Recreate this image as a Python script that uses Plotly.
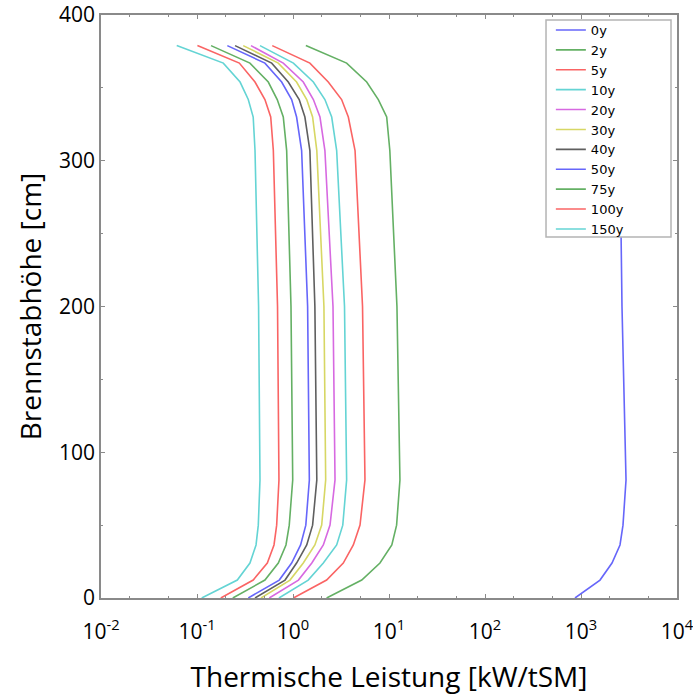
import plotly.graph_objects as go

# Brennstabhöhe [cm] (Stützstellen der Profile)
heights = [0, 12.3, 24, 36.4, 50, 81, 200, 307, 330, 342, 354, 367, 379]

# Thermische Leistung [kW/tSM] je Abklingzeit
p_0y = [866, 1578, 2104, 2548, 2738, 2944, 2673, 2548, 2400, 2100, 1700, 1200, 700]
p_2y = [2.24, 5.20, 8.05, 10.7, 12.0, 13.0, 12.1, 10.2, 9.46, 7.74, 5.86, 3.62, 1.36]
p_5y = [1.01, 2.24, 3.34, 4.25, 4.99, 5.62, 5.30, 4.43, 3.77, 3.21, 2.33, 1.50, 0.608]
p_10y = [0.714, 1.44, 2.07, 2.85, 3.30, 3.62, 3.44, 2.85, 2.53, 2.15, 1.63, 1.01, 0.453]
p_20y = [0.566, 1.14, 1.57, 2.07, 2.43, 2.74, 2.61, 2.15, 1.91, 1.63, 1.28, 0.792, 0.365]
p_30y = [0.464, 0.931, 1.28, 1.69, 1.99, 2.19, 2.10, 1.77, 1.60, 1.39, 1.09, 0.703, 0.303]
p_40y = [0.402, 0.826, 1.09, 1.39, 1.60, 1.77, 1.69, 1.50, 1.33, 1.16, 0.893, 0.600, 0.249]
p_50y = [0.342, 0.719, 0.968, 1.20, 1.36, 1.48, 1.42, 1.23, 1.09, 0.968, 0.762, 0.510, 0.207]
p_75y = [0.236, 0.510, 0.703, 0.845, 0.914, 0.993, 0.953, 0.859, 0.792, 0.685, 0.553, 0.356, 0.140]
p_100y = [0.177, 0.385, 0.540, 0.634, 0.676, 0.714, 0.690, 0.624, 0.586, 0.510, 0.402, 0.276, 0.101]
p_150y = [0.112, 0.263, 0.356, 0.412, 0.435, 0.453, 0.438, 0.402, 0.385, 0.342, 0.281, 0.188, 0.0615]

series_names = ["0y", "2y", "5y", "10y", "20y", "30y", "40y", "50y", "75y", "100y", "150y"]
series_values = [p_0y, p_2y, p_5y, p_10y, p_20y, p_30y, p_40y, p_50y, p_75y, p_100y, p_150y]

x_tickvals = [0.01, 0.1, 1, 10, 100, 1000, 10000]
x_ticktext = ["10<sup>-2</sup>", "10<sup>-1</sup>", "10<sup>0</sup>", "10<sup>1</sup>",
              "10<sup>2</sup>", "10<sup>3</sup>", "10<sup>4</sup>"]
y_tickvals = [0, 100, 200, 300, 400]

BLUE = "rgb(102,102,250)"
GREEN = "rgb(100,176,100)"
RED = "rgb(250,100,100)"
CYAN = "rgb(100,212,212)"
MAGENTA = "rgb(215,105,225)"
YELLOW = "rgb(215,215,100)"
GRAY = "rgb(95,95,95)"
colors = [BLUE, GREEN, RED, CYAN, MAGENTA, YELLOW, GRAY, BLUE, GREEN, RED, CYAN]

fig = go.Figure()
for name, vals, col in zip(series_names, series_values, colors):
    fig.add_trace(go.Scatter(
        x=vals, y=heights, mode="lines", name=name,
        line=dict(color=col, width=1.6),
    ))

AX = "#8a8a8a"
fig.update_layout(
    width=693, height=697,
    margin=dict(l=101, r=16, t=15, b=99),
    paper_bgcolor="white", plot_bgcolor="white",
    font=dict(family="Open Sans", color="black"),
    showlegend=True,
    legend=dict(
        x=0.781, y=1.0, xanchor="left", yanchor="top",
        bgcolor="rgba(0,0,0,0)", borderwidth=0,
        font=dict(family="DejaVu Sans", size=13, color="black"),
        itemwidth=30,
    ),
    shapes=[dict(
        type="rect", xref="paper", yref="paper",
        x0=0.7726, x1=0.9896, y0=0.6192, y1=0.9914,
        fillcolor="white", line=dict(color="#b4b4b4", width=1.5), layer="above",
    )],
)
fig.update_xaxes(
    type="log", range=[-2, 4], automargin=False,
    tickvals=x_tickvals, ticktext=x_ticktext,
    tickfont=dict(size=21, family="Open Sans"),
    ticklabelstandoff=14, ticklabeloverflow="allow",
    showgrid=False, zeroline=False,
    showline=True, linecolor=AX, linewidth=1.5, mirror="ticks",
    ticks="inside", ticklen=4, tickcolor=AX,
    minor=dict(ticks="inside", ticklen=2, tickcolor=AX, showgrid=False),
    title=dict(text="Thermische Leistung [kW/tSM]", font=dict(size=28), standoff=23),
)
fig.update_yaxes(
    range=[0, 400], automargin=False, tickvals=y_tickvals,
    tickfont=dict(size=21, family="Open Sans"),
    ticklabelstandoff=0, ticklabeloverflow="allow",
    showgrid=False, zeroline=False,
    showline=True, linecolor=AX, linewidth=1.5, mirror="ticks",
    ticks="inside", ticklen=4, tickcolor=AX,
    minor=dict(dtick=50, ticks="inside", ticklen=2, tickcolor=AX, showgrid=False),
    title=dict(text="Brennstabhöhe [cm]", font=dict(size=28), standoff=9),
)

fig.write_html("out.html", config={"displayModeBar": False},
               post_script="document.body.style.margin='0';")
